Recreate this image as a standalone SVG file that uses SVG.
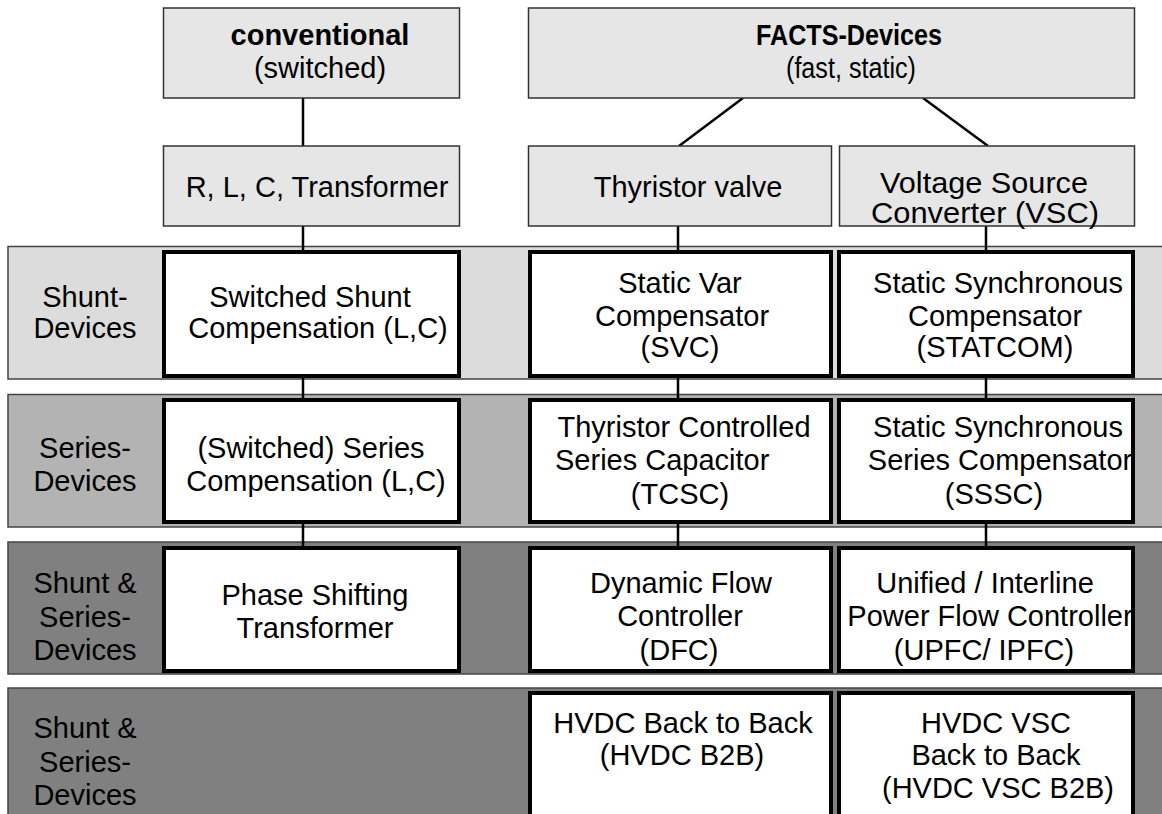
<svg xmlns="http://www.w3.org/2000/svg" width="1162" height="814" viewBox="0 0 1162 814">
<style>
text { font-family: "Liberation Sans", Arial, Helvetica, sans-serif; font-size: 29px; fill: #000; text-anchor: middle; }
.b { font-weight: bold; }
.hdr { fill: #e6e6e6; stroke: #333; stroke-width: 1.5; }
.band { stroke: #444; stroke-width: 1.5; }
.b1 { fill: #dcdcdc; }
.b2 { fill: #b3b3b3; }
.b3 { fill: #808080; }
.box { fill: #fff; }
.frame { fill: none; stroke: #000; stroke-width: 4; }
.conn line { stroke: #000; stroke-width: 2.5; }
</style>
<rect width="1162" height="814" fill="#fff"/>

<g id="band-shunt">
<rect class="band b1" x="8" y="246.5" width="1160" height="132.5"/>
<text x="85" y="307">Shunt-</text><text x="85" y="338">Devices</text>
</g>
<g id="band-series">
<rect class="band b2" x="8" y="394.5" width="1160" height="132.5"/>
<text x="85" y="458">Series-</text><text x="85" y="491">Devices</text>
</g>
<g id="band-shunt-series">
<rect class="band b3" x="8" y="542" width="1160" height="132"/>
<text x="85" y="593">Shunt &amp;</text><text x="85" y="627">Series-</text><text x="85" y="660">Devices</text>
</g>
<g id="band-shunt-series-2">
<rect class="band b3" x="8" y="688" width="1160" height="140"/>
<text x="85" y="738">Shunt &amp;</text><text x="85" y="772">Series-</text><text x="85" y="805">Devices</text>
</g>

<g id="connectors" class="conn">
<line x1="303" y1="98" x2="303" y2="146"/>
<line x1="743" y1="98" x2="679" y2="146"/>
<line x1="923" y1="98" x2="988" y2="146"/>
<line x1="303" y1="226" x2="303" y2="252"/>
<line x1="678" y1="226" x2="678" y2="252"/>
<line x1="986" y1="226" x2="986" y2="252"/>
<line x1="303" y1="376" x2="303" y2="400"/>
<line x1="678" y1="376" x2="678" y2="400"/>
<line x1="986" y1="376" x2="986" y2="400"/>
<line x1="303" y1="522" x2="303" y2="548"/>
<line x1="678" y1="522" x2="678" y2="548"/>
<line x1="986" y1="522" x2="986" y2="548"/>
</g>

<g id="conventional">
<rect class="hdr" x="163.5" y="8" width="296" height="90"/>
<text class="b" x="320" y="45">conventional</text>
<text x="320" y="78">(switched)</text>
</g>
<g id="facts">
<rect class="hdr" x="528.5" y="8" width="606" height="90"/>
<text class="b" x="849" y="45" textLength="186" lengthAdjust="spacingAndGlyphs">FACTS-Devices</text>
<text x="851" y="78" textLength="130" lengthAdjust="spacingAndGlyphs">(fast, static)</text>
</g>
<g id="rlc">
<rect class="hdr" x="163.5" y="146" width="296" height="80"/>
<text x="317" y="197">R, L, C, Transformer</text>
</g>
<g id="thyristor">
<rect class="hdr" x="528.5" y="146" width="303" height="80"/>
<text x="688" y="197">Thyristor valve</text>
</g>
<g id="vsc">
<rect class="hdr" x="839.5" y="146" width="295" height="80"/>
<text x="984" y="193" textLength="208" lengthAdjust="spacingAndGlyphs">Voltage Source</text>
<text x="985" y="223" textLength="228" lengthAdjust="spacingAndGlyphs">Converter (VSC)</text>
</g>

<g id="switched-shunt">
<rect class="box" x="164" y="252" width="295" height="124"/>
<text x="310" y="307">Switched Shunt</text>
<text x="318" y="338">Compensation (L,C)</text>
<rect class="frame" x="164" y="252" width="295" height="124"/>
</g>
<g id="svc">
<rect class="box" x="530" y="252" width="301" height="124"/>
<text x="680" y="293">Static Var</text>
<text x="682" y="326">Compensator</text>
<text x="680" y="357">(SVC)</text>
<rect class="frame" x="530" y="252" width="301" height="124"/>
</g>
<g id="statcom">
<rect class="box" x="839" y="252" width="294" height="124"/>
<text x="998" y="293">Static Synchronous</text>
<text x="995" y="326">Compensator</text>
<text x="995" y="357">(STATCOM)</text>
<rect class="frame" x="839" y="252" width="294" height="124"/>
</g>

<g id="switched-series">
<rect class="box" x="164" y="400" width="295" height="122"/>
<text x="311" y="458">(Switched) Series</text>
<text x="316" y="491">Compensation (L,C)</text>
<rect class="frame" x="164" y="400" width="295" height="122"/>
</g>
<g id="tcsc">
<rect class="box" x="530" y="400" width="301" height="122"/>
<text x="684" y="437">Thyristor Controlled</text>
<text x="555" y="470" style="text-anchor:start">Series Capacitor</text>
<text x="680" y="504">(TCSC)</text>
<rect class="frame" x="530" y="400" width="301" height="122"/>
</g>
<g id="sssc">
<rect class="box" x="839" y="400" width="294" height="122"/>
<text x="998" y="437">Static Synchronous</text>
<text x="1000" y="470">Series Compensator</text>
<text x="994" y="504">(SSSC)</text>
<rect class="frame" x="839" y="400" width="294" height="122"/>
</g>

<g id="pst">
<rect class="box" x="164" y="548" width="295" height="123"/>
<text x="315" y="605">Phase Shifting</text>
<text x="315" y="638">Transformer</text>
<rect class="frame" x="164" y="548" width="295" height="123"/>
</g>
<g id="dfc">
<rect class="box" x="530" y="548" width="301" height="123"/>
<text x="681" y="593">Dynamic Flow</text>
<text x="680" y="626">Controller</text>
<text x="679" y="660">(DFC)</text>
<rect class="frame" x="530" y="548" width="301" height="123"/>
</g>
<g id="upfc">
<rect class="box" x="839" y="548" width="294" height="123"/>
<text x="985" y="593">Unified / Interline</text>
<text x="990" y="626">Power Flow Controller</text>
<text x="984" y="660">(UPFC/ IPFC)</text>
<rect class="frame" x="839" y="548" width="294" height="123"/>
</g>

<g id="hvdc-b2b">
<rect class="box" x="530" y="693" width="301" height="140"/>
<text x="683" y="733">HVDC Back to Back</text>
<text x="682" y="765">(HVDC B2B)</text>
<rect class="frame" x="530" y="693" width="301" height="140"/>
</g>
<g id="hvdc-vsc-b2b">
<rect class="box" x="839" y="693" width="294" height="140"/>
<text x="996" y="733">HVDC VSC</text>
<text x="996" y="765">Back to Back</text>
<text x="998" y="798">(HVDC VSC B2B)</text>
<rect class="frame" x="839" y="693" width="294" height="140"/>
</g>
</svg>
